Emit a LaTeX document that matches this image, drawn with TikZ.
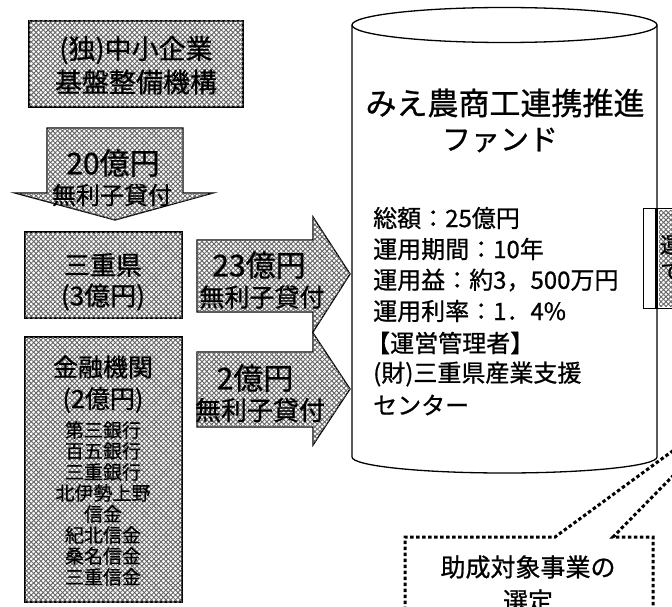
\documentclass[tikz,border=0pt]{standalone}
\usepackage{fontspec}
\setmainfont{Noto Sans CJK JP}[FakeBold=0.8]
\usetikzlibrary{patterns.meta}
\tikzset{
  hatch/.style={draw=black, line width=1.3pt, fill=white,
    postaction={pattern={Lines[angle=45,distance=3.4pt,line width=0.95pt]}, pattern color=black!60},
    postaction={pattern={Lines[angle=-45,distance=3.4pt,line width=0.95pt]}, pattern color=black!60}},
  hatchin/.style={fill=white,
    postaction={pattern={Lines[angle=45,distance=3.4pt,line width=0.95pt]}, pattern color=black!60},
    postaction={pattern={Lines[angle=-45,distance=3.4pt,line width=0.95pt]}, pattern color=black!60}},
  txt/.style={inner sep=0pt, font=\fontsize{#1}{#1}\selectfont},
  txt/.default=24,
  cyl/.style={draw=black, line width=1.3pt},
  dotline/.style={draw=black, line width=3pt, dash pattern=on 3.5pt off 2.5pt},
}
\begin{document}
\begin{tikzpicture}[x=1pt,y=-1pt]
\useasboundingbox (0,0) rectangle (672,607);
\fill[white] (0,0) rectangle (672,607);
\clip (0,0) rectangle (672,607);

% top box
\draw[hatch] (29,21) rectangle (243,107);
\node[txt=27] (orgA) at (136,50) {(独)中小企業};
\node[txt=27] (orgB) at (136,82) {基盤整備機構};

% down arrow
\draw[hatch] (47,128) -- (183,128) -- (183,193) -- (213,193) -- (115,220) -- (15,193) -- (47,193) -- cycle;
\node[txt=30] (dnA) at (113,163) {20億円};
\node[txt=24] (dnB) at (112,195) {無利子貸付};

% Mie prefecture box
\draw[hatch] (25,232) rectangle (182,318);
\node[txt=26] (mieA) at (103,265) {三重県};
\node[txt=26] (mieB) at (103,297) {(3億円)};

% financial institutions box
\draw[hatch] (25,337) rectangle (182,602);
\node[txt=25] (finA) at (103,367) {金融機関};
\node[txt=25] (finB) at (103,400) {(2億円)};
\node[txt=19] (fin1) at (103,430) {第三銀行};
\node[txt=19] (fin2) at (103,451) {百五銀行};
\node[txt=19] (fin3) at (103,472) {三重銀行};
\node[txt=19] (fin4) at (103,493) {北伊勢上野};
\node[txt=19] (fin5) at (103,514) {信金};
\node[txt=19] (fin6) at (103,535) {紀北信金};
\node[txt=19] (fin7) at (103,556) {桑名信金};
\node[txt=19] (fin8) at (103,577) {三重信金};

% cylinder
\fill[white] (352,25) -- (352,457) .. controls (352,465.8) and (420.3,473) .. (504.5,473)
  .. controls (588.7,473) and (657,465.8) .. (657,457) -- (657,25) -- cycle;
\draw[cyl] (352,25) -- (352,457) .. controls (352,465.8) and (420.3,473) .. (504.5,473)
  .. controls (588.7,473) and (657,465.8) .. (657,457) -- (657,25);
\draw[cyl, fill=white] (504.5,25) ellipse [x radius=152.5, y radius=17.5];

% right arrows
\draw[hatch] (197,240) -- (313,240) -- (313,217) -- (350,274) -- (313,332) -- (313,312) -- (197,312) -- cycle;
\node[txt=30] (arA) at (259,265) {23億円};
\node[txt=25] (arB) at (262,297) {無利子貸付};
\draw[hatch] (197,352) -- (313,352) -- (313,333) -- (350,389) -- (313,445) -- (313,427) -- (197,427) -- cycle;
\node[txt=30] (brA) at (255,378) {2億円};
\node[txt=26] (brB) at (260,410) {無利子貸付};

% fund texts
\node[txt=31] (fundA) at (505,103) {みえ農商工連携推進};
\node[txt=29] (fundB) at (500,140) {ファンド};
\node[txt=24, anchor=west] (f1) at (373,218) {総額：25億円};
\node[txt=24, anchor=west] (f2) at (373,249) {運用期間：10年};
\node[txt=24, anchor=west] (f3) at (373,280) {運用益：約3，500万円};
\node[txt=24, anchor=west] (f4) at (373,311) {運用利率：1．4\%};
\node[txt=24, anchor=west] (f5) at (366,343) {【運営管理者】};
\node[txt=24, anchor=west] (f6) at (373,374) {(財)三重県産業支援};
\node[txt=24, anchor=west] (f7) at (373,405) {センター};

% partial box at right edge
\draw[line width=0.8pt, fill=white] (643,208) rectangle (700,308);
\fill[hatchin] (659,210) rectangle (700,306);
\draw[line width=3pt] (656.5,208) -- (656.5,308);
\node[txt=22, anchor=west] (edgeA) at (660,245) {運};
\node[txt=22, anchor=west] (edgeB) at (660,272) {で};

% dotted callout
\draw[dotline] (405,640) -- (405,537) -- (555,537) -- (760,387) -- (613,537) -- (653,537) -- (653,640);
\node[txt=25] (selA) at (528,567) {助成対象事業の};
\node[txt=25] (selB) at (528,601) {選定};
\end{tikzpicture}
\end{document}
